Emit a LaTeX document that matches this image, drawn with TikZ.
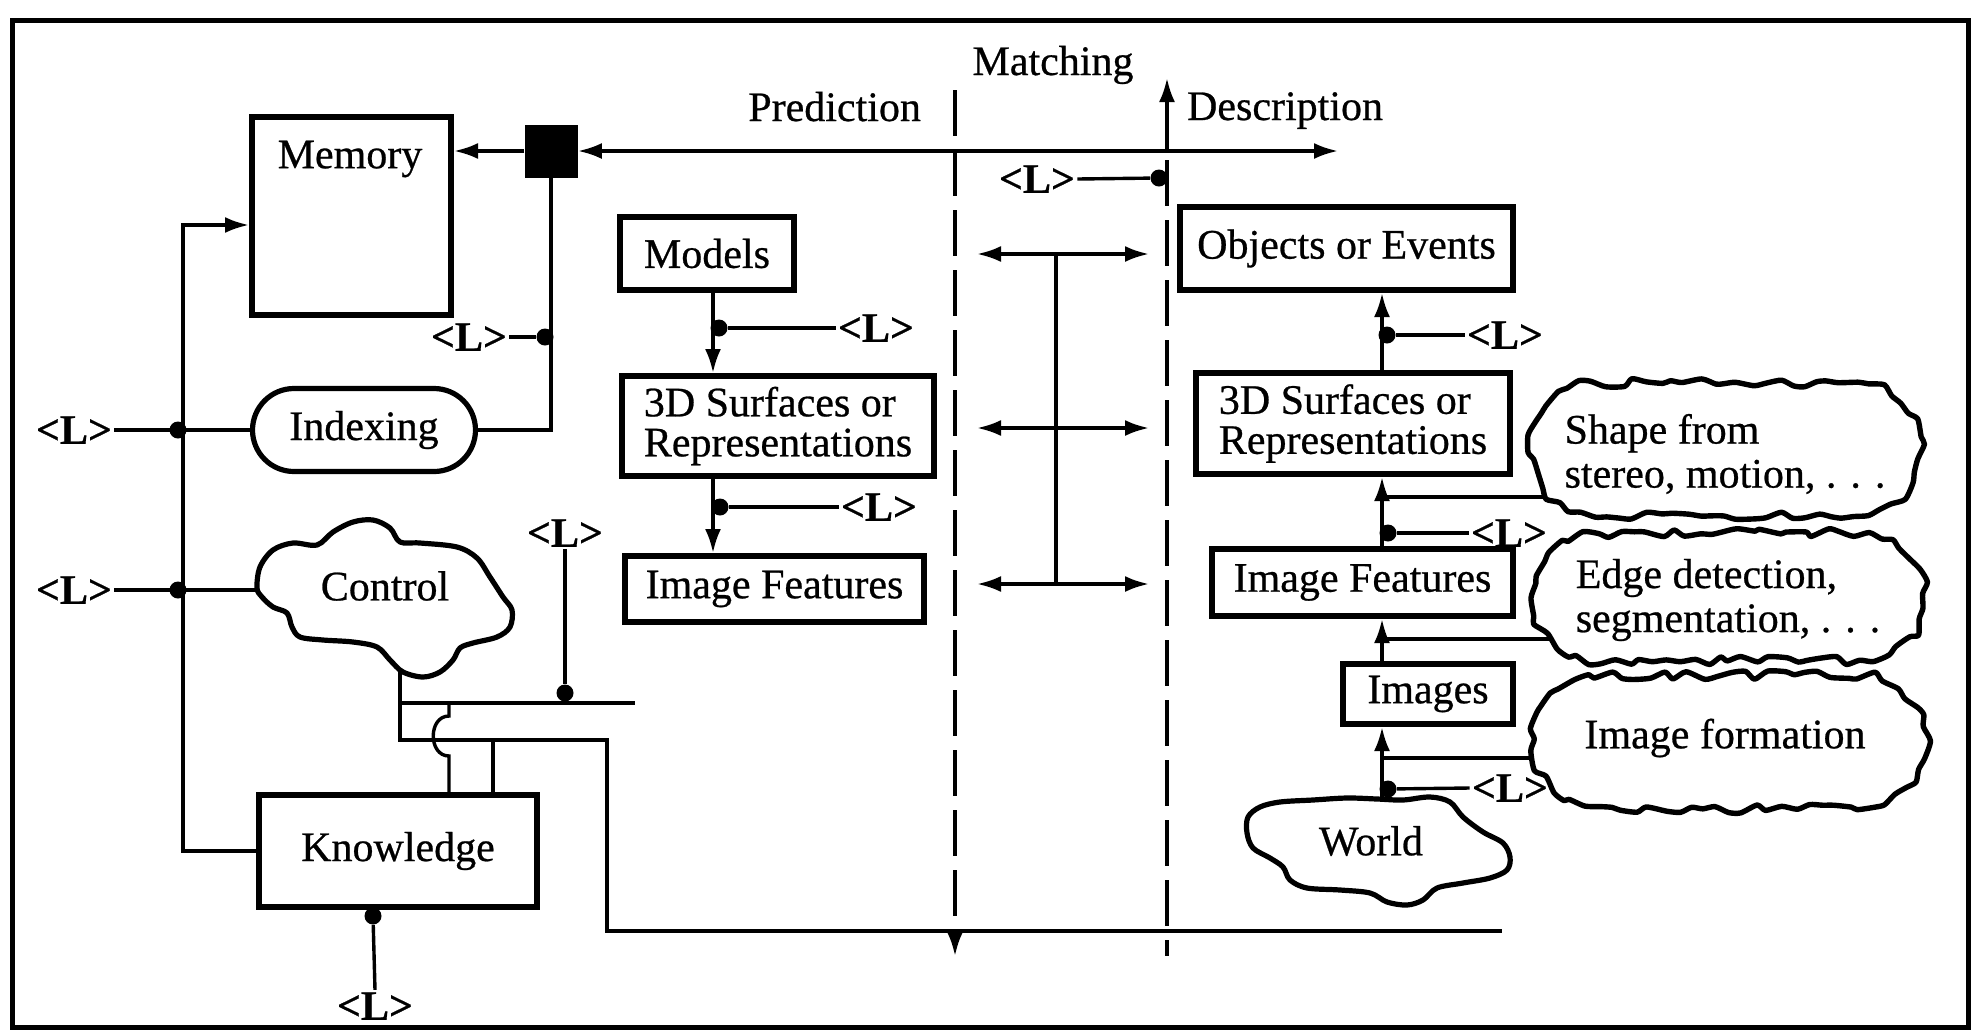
\documentclass[tikz,border=0pt]{standalone}
\usepackage{fontspec}
\setmainfont{Liberation Serif}[FakeBold=0.6]
\usetikzlibrary{arrows.meta,shapes.misc,backgrounds}
\newcommand\figfont{\fontsize{21pt}{20pt}\selectfont}
% wavy outline around a process cloud: centre x, centre y, half width, half height
% (a stadium traced by arc length, each sample jittered a little)
\newcommand\wavyoutline[4]{%
  \pgfmathsetmacro\wvL{#3-#4}%
  \pgfmathsetmacro\wvR{#4}%
  \pgfmathsetmacro\wvP{4*\wvL+2*pi*\wvR}%
  \pgfmathsetmacro\wvE{\wvP*(1-1/72)}%
  \draw[line width=2.7pt, fill=white, line join=round]
    plot[smooth cycle, tension=0.4, samples=72, domain=0:\wvE, variable=\t]
    ({((\t<2*\wvL) ? (#1-\wvL+\t) : ((\t<2*\wvL+pi*\wvR) ? (#1+\wvL+\wvR*sin(deg((\t-2*\wvL)/\wvR))) : ((\t<4*\wvL+pi*\wvR) ? (#1+\wvL-(\t-2*\wvL-pi*\wvR)) : (#1-\wvL-\wvR*sin(deg((\t-4*\wvL-pi*\wvR)/\wvR)))))) + 4.5*rand},
     {((\t<2*\wvL) ? (#2-\wvR) : ((\t<2*\wvL+pi*\wvR) ? (#2-\wvR*cos(deg((\t-2*\wvL)/\wvR))) : ((\t<4*\wvL+pi*\wvR) ? (#2+\wvR) : (#2+\wvR*cos(deg((\t-4*\wvL-pi*\wvR)/\wvR)))))) + 4.5*rand});}

\begin{document}
\begin{tikzpicture}[x=0.5pt, y=-0.5pt,
  every node/.style={font=\figfont},
  >={Latex[length=12pt,width=8pt]},
  box/.style={draw, line width=3pt, fill=white, inner sep=0pt, align=left},
  conn/.style={line width=1.7pt},
  arr/.style={conn, ->},
  darr/.style={conn, <->},
  dot/.style={circle, fill, inner sep=0pt, minimum size=8.5pt},
  lab/.style={inner sep=1pt, font=\figfont\bfseries},
  dsh/.style={conn, dash pattern=on 23pt off 7pt},
  cloudtext/.style={inner sep=0pt, align=left, font=\fontsize{21pt}{22pt}\selectfont},
  blob/.style={draw, line width=2.6pt, fill=white, line join=round}
]
\useasboundingbox (0,0) rectangle (1972,1035);
\pgfmathsetseed{23}

% outer frame
\draw[line width=2.5pt] (12,20) rectangle (1968,1027);

% ---- left part: memory, indexing, control, knowledge
\node[box, minimum width=99.5pt, minimum height=99pt] (mem) at (351.5,216) {};
\node (memtxt) at (350,159) {Memory};
\node[fill, minimum size=26.5pt, inner sep=0pt] (sq) at (551,151) {};
\node[box, rounded rectangle, line width=2.6pt, minimum width=111.5pt,
      minimum height=41.5pt, align=center] (idx) at (364,430) {Indexing};
\node[box, minimum width=139pt, minimum height=56pt, align=center] (kn) at (398,851) {Knowledge};

% ---- prediction column
\node[box, minimum width=87pt, minimum height=36.5pt] (mod) at (707,253.5) {Models};
\node[box, minimum width=156pt, minimum height=50pt] (s3l) at (778,426) {3D Surfaces or\\Representations};
\node[box, minimum width=149.5pt, minimum height=33pt] (ifl) at (774.5,589) {Image Features};

% ---- description column
\node[box, minimum width=166.5pt, minimum height=41.5pt] (obj) at (1346.5,248.5) {Objects or Events};
\node[box, minimum width=157pt, minimum height=50.5pt] (s3r) at (1353,423.5) {3D Surfaces or\\Representations};
\node[box, minimum width=150.5pt, minimum height=33.5pt] (ifr) at (1362.5,582.5) {Image Features};
\node[box, minimum width=85pt, minimum height=30pt] (img) at (1428,694) {Images};

% ---- process clouds
\wavyoutline{1726}{449}{197}{66}
\node[cloudtext] (shp) at (1725,454) {Shape from\\stereo, motion, . . .};
\wavyoutline{1728}{597}{197}{64}
\node[cloudtext] (edg) at (1728,600) {Edge detection,\\segmentation, . . .};
\wavyoutline{1729}{742}{198}{67}
\node[cloudtext] (imf) at (1725,738) {Image formation};

% control and world blobs
\draw[blob] plot[smooth cycle, tension=0.55] coordinates {(257,588) (260,567) (273,550) (293,543) (317,545) (333,532) (353,522) (373,520) (390,528) (400,542) (420,543) (457,547) (477,558) (490,577) (503,597) (512,610) (510,627) (497,637) (473,643) (460,648) (453,660) (440,672) (423,677) (403,672) (390,660) (377,647) (353,642) (323,640) (300,637) (292,627) (287,613) (273,607) (262,597)};
\node (ctl) at (385,586) {Control};
\draw[blob] plot[smooth cycle, tension=0.55] coordinates {(1248,817) (1260,807) (1280,802) (1313,800) (1347,798) (1377,799) (1403,800) (1430,797) (1450,802) (1463,817) (1483,832) (1503,843) (1510,857) (1507,870) (1490,878) (1463,883) (1437,888) (1423,900) (1407,905) (1387,902) (1370,893) (1340,890) (1307,888) (1290,880) (1283,867) (1270,858) (1253,848) (1247,833)};
\node (wld) at (1371,841) {World};

% ---- headings
\node[anchor=base] (tmatch) at (1053,75) {Matching};
\node[anchor=base east] (tpred) at (928,121) {Prediction};
\node[anchor=base west] (tdesc) at (1180,120) {Description};

% ---- <L> labels and their dots
\node[lab] (L1) at (469,337) {<L>};
\node[lab] (L2) at (74,430) {<L>};
\node[lab] (L3) at (74,590) {<L>};
\node[lab] (L4) at (565,533) {<L>};
\node[lab] (L5) at (375,1006) {<L>};
\node[lab] (L6) at (876,328) {<L>};
\node[lab] (L7) at (879,507) {<L>};
\node[lab] (L8) at (1037,179) {<L>};
\node[lab] (L9) at (1505,335) {<L>};
\node[lab] (L10) at (1509,533) {<L>};
\node[lab] (L11) at (1510,788) {<L>};

\node[dot] (d1) at (545,337) {};
\node[dot] (d2) at (178,430) {};
\node[dot] (d3) at (178,590) {};
\node[dot] (d4) at (565,693) {};
\node[dot] (d5) at (373,916) {};
\node[dot] (d6) at (719,328) {};
\node[dot] (d7) at (720,507) {};
\node[dot] (d8) at (1159,178) {};
\node[dot] (d9) at (1387,335) {};
\node[dot] (d10) at (1388,533) {};
\node[dot] (d11) at (1388,789) {};

% ---- routing points
\coordinate (lvT) at (183,225);
\coordinate (lvB) at (183,851);
\coordinate (mainR) at (1338,151);
\coordinate (dl1) at (955,90);
\coordinate (dl2) at (955,956);
\coordinate (dr0) at (1167,151);
\coordinate (dr1) at (1167,78);
\coordinate (dr2) at (1167,160);
\coordinate (dr3) at (1167,956);
\coordinate (cL) at (713,300);
\coordinate (cR) at (1382,300);
\coordinate (ctlc) at (385,590);
\coordinate (cst) at (400,650);
\coordinate (j1) at (400,703);
\coordinate (j2) at (400,740);
\coordinate (j3) at (607,740);
\coordinate (j4) at (607,931);
\coordinate (j5) at (1502,931);
\coordinate (j6) at (635,703);
\coordinate (j7) at (493,740);
\coordinate (h0) at (449,703);
\coordinate (h1) at (449,716);
\coordinate (h2) at (449,756);
\coordinate (wc) at (1382,850);
\coordinate (b1) at (1382,497);
\coordinate (b2) at (1382,639);
\coordinate (b3) at (1382,758);
\coordinate (ma1) at (977,254);  \coordinate (mb1) at (1149,254);
\coordinate (ma2) at (977,428);  \coordinate (mb2) at (1149,428);
\coordinate (ma3) at (977,584);  \coordinate (mb3) at (1149,584);
\coordinate (mv1) at (1056,254); \coordinate (mv2) at (1056,584);

% ---- lines running into the clouds (hidden behind their fill)
\begin{scope}[on background layer]
  \draw[conn] (L3.east) -- (ctlc);
  \draw[conn] (cst) -- (j1) -- (j2) -- (j3) -- (j4) -- (j5);
  \draw[arr] (wc) -- (img.south -| wc);
  \draw[conn] (b1) -- (shp.center |- b1);
  \draw[conn] (b2) -- (edg.center |- b2);
  \draw[conn] (b3) -- (imf.center |- b3);
\end{scope}

% ---- memory / indexing / knowledge wiring
\draw[arr] (kn.west) -- (lvB) -- (lvT) -- (mem.west |- lvT);
\draw[conn] (L2.east) -- (idx.west);
\draw[conn] (idx.east) -| (sq.south);
\draw[conn] (L1.east) -- (d1);
\draw[arr] (sq.west) -- (mem.east |- sq.west);
\draw[darr] (sq.east) -- (mainR);
\draw[conn] (j1) -- (j6);
\draw[conn] (L4.south) -- (d4);
\draw[conn] (h0) -- (h1) .. controls (428,716) and (428,756) .. (h2) -- (kn.north -| h0);
\draw[conn] (j7) -- (kn.north -| j7);
\draw[conn] (d5) -- (L5.north);

% ---- matching boundaries
\draw[dsh, ->] (dl1) -- (dl2);
\draw[arr] (dr0) -- (dr1);
\draw[dsh] (dr2) -- (dr3);
\draw[conn] (L8.east) -- (d8);
\draw[darr] (ma1) -- (mb1);
\draw[darr] (ma2) -- (mb2);
\draw[darr] (ma3) -- (mb3);
\draw[conn] (mv1) -- (mv2);

% ---- prediction chain
\draw[arr] (mod.south -| cL) -- (s3l.north -| cL);
\draw[arr] (s3l.south -| cL) -- (ifl.north -| cL);
\draw[conn] (d6) -- (L6.west);
\draw[conn] (d7) -- (L7.west);

% ---- description chain
\draw[arr] (s3r.north -| cR) -- (obj.south -| cR);
\draw[arr] (ifr.north -| cR) -- (s3r.south -| cR);
\draw[arr] (img.north -| cR) -- (ifr.south -| cR);
\draw[conn] (d9) -- (L9.west);
\draw[conn] (d10) -- (L10.west);
\draw[conn] (d11) -- (L11.west);
\end{tikzpicture}
\end{document}
